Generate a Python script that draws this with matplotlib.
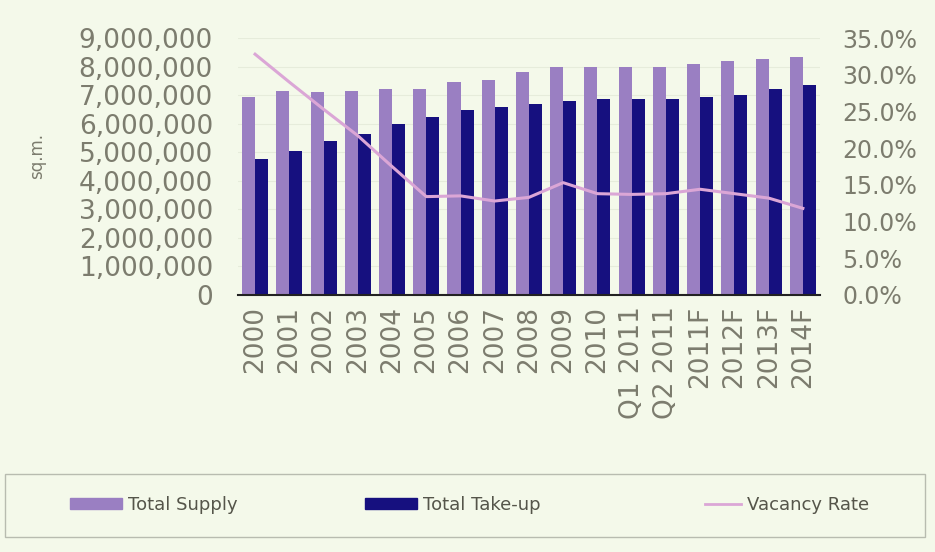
import matplotlib.pyplot as plt
import numpy as np
from matplotlib.ticker import FuncFormatter
from matplotlib.patches import Rectangle
from matplotlib.lines import Line2D

periods = ['2000', '2001', '2002', '2003', '2004', '2005', '2006', '2007', '2008',
           '2009', '2010', 'Q1 2011', 'Q2 2011', '2011F', '2012F', '2013F', '2014F']
total_supply = [6950000, 7150000, 7120000, 7130000, 7200000, 7200000, 7450000, 7520000,
                7800000, 8000000, 8000000, 8000000, 8000000, 8100000, 8180000, 8250000, 8350000]
total_takeup = [4750000, 5030000, 5400000, 5630000, 5980000, 6220000, 6470000, 6600000,
                6700000, 6780000, 6850000, 6850000, 6850000, 6920000, 7000000, 7200000, 7340000]
vacancy_rate = [32.8, 29.0, 25.3, 21.7, 17.5, 13.4, 13.5, 12.8, 13.3,
                15.3, 13.8, 13.7, 13.8, 14.4, 13.8, 13.2, 11.8]

bg = '#f4f9ea'
supply_col = '#9a7fc2'
takeup_col = '#16107f'
line_col = '#dba6d6'
txt = '#7c7c6e'

plt.rcParams['font.family'] = ['DejaVu Sans']

fig = plt.figure(figsize=(9.35, 5.52), dpi=100, facecolor=bg)
ax = fig.add_axes([0.2545, 0.4656, 0.6225, 0.4655])
ax.set_facecolor(bg)

x = np.arange(len(periods))
w = 0.38
ax.bar(x - w / 2, total_supply, w, color=supply_col, zorder=2)
ax.bar(x + w / 2, total_takeup, w, color=takeup_col, zorder=2)

ax.set_xlim(-0.5, len(periods) - 0.5)
ax.set_ylim(0, 9000000)
ax.set_yticks(np.arange(0, 9000001, 1000000))
ax.yaxis.set_major_formatter(FuncFormatter(lambda v, p: f'{int(v):,}'))
ax.set_xticks(x)
ax.set_xticklabels(periods, rotation=90)
ax.tick_params(axis='y', length=0, labelsize=19, colors=txt, pad=18)
ax.tick_params(axis='x', length=0, labelsize=19, colors=txt, pad=8)
ax.grid(axis='y', color='#e6ecdb', linewidth=0.8, zorder=0)
for s in ['top', 'right', 'left']:
    ax.spines[s].set_visible(False)
ax.spines['bottom'].set_color('#222222')
ax.spines['bottom'].set_linewidth(1.5)
ax.set_ylabel('sq.m.', fontsize=12, color=txt)
ax.yaxis.set_label_coords(-0.33, 0.54)

ax2 = ax.twinx()
ax2.plot(x, vacancy_rate, color=line_col, linewidth=2.2, zorder=3)
ax2.set_ylim(0, 35)
ax2.set_yticks(np.arange(0, 35.1, 5))
ax2.yaxis.set_major_formatter(FuncFormatter(lambda v, p: f'{v:.1f}%'))
ax2.tick_params(axis='y', length=0, labelsize=17, colors=txt, pad=16)
for s in ax2.spines.values():
    s.set_visible(False)

# legend box
fig.patches.append(Rectangle((5 / 935, 1 - 537 / 552), 920 / 935, 63 / 552,
                             transform=fig.transFigure, facecolor=bg,
                             edgecolor='#b8bcb0', linewidth=1.0))
entries = [
    (Rectangle((0, 0), 1, 1, color=supply_col), 'Total Supply', 70, 2.9),
    (Rectangle((0, 0), 1, 1, color=takeup_col), 'Total Take-up', 365, 2.9),
    (Line2D([], [], color=line_col, linewidth=2), 'Vacancy Rate', 705, 2.0),
]
for handle, label, xpix, hl in entries:
    lg = fig.legend([handle], [label], loc='center left',
                    bbox_to_anchor=(xpix / 935, 1 - 505 / 552), frameon=False,
                    fontsize=13, handlelength=hl, handleheight=0.55,
                    handletextpad=0.3, borderaxespad=0, borderpad=0)
    for t in lg.get_texts():
        t.set_color('#55554a')

plt.savefig('out.png', dpi=100, facecolor=bg)
